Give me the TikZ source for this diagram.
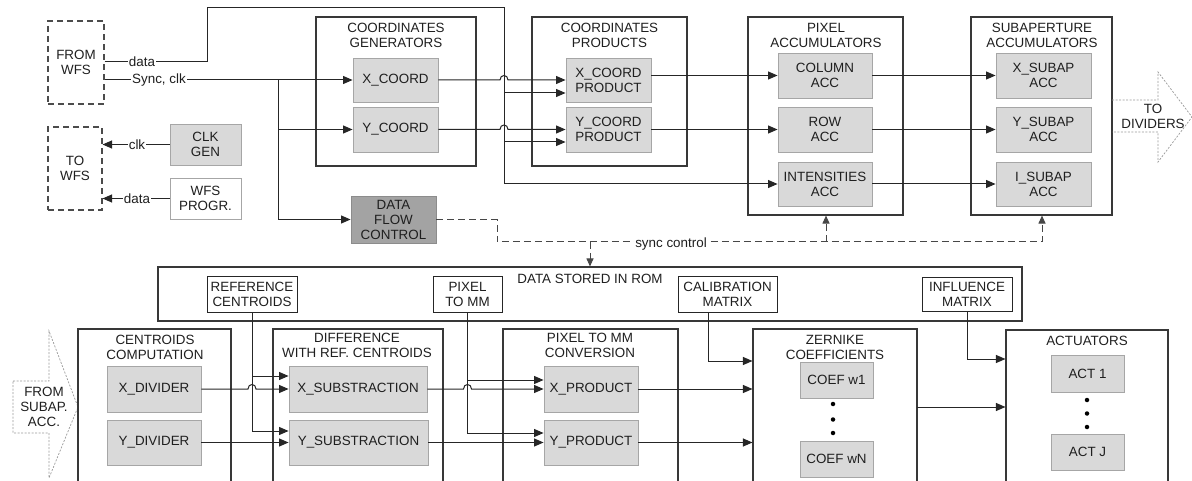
\documentclass[tikz,border=0pt]{standalone}
\usepackage{fontspec}
\setmainfont{Liberation Sans}
\usetikzlibrary{arrows.meta,calc}

\begin{document}
\begin{tikzpicture}[x=1pt,y=-1pt,
  font=\fontsize{13.4}{15}\selectfont,
  every node/.style={inner sep=0pt, align=center, text=black!88},
  grp/.style={draw=black!78, line width=1.1pt},
  unit/.style={draw=black!35, line width=0.9pt, fill=black!15},
  ctlunit/.style={draw=black!45, line width=0.9pt, fill=black!36},
  plain/.style={draw=black!35, line width=0.9pt, fill=white},
  romitem/.style={draw=black!85, line width=1pt, fill=white},
  iface/.style={draw=black!70, line width=1.1pt, dash pattern=on 6pt off 4pt},
  flow/.style={draw=black!40, line width=0.7pt, dash pattern=on 2pt off 1.5pt},
  wire/.style={draw=black!85, line width=1pt},
  arr/.style={wire, -{Triangle[length=9.5pt,width=8pt]}},
  ctl/.style={draw=black!72, line width=1pt, dash pattern=on 7pt off 4pt},
  ctlarr/.style={ctl, -{Triangle[length=8pt,width=7pt]}},
  tag/.style={fill=white, inner xsep=1pt, inner ysep=1pt},
  dotmark/.style={circle, fill=black, minimum size=4.5pt, inner sep=0pt},
]
\useasboundingbox (0,0) rectangle (1192,481);
\clip (0,0) rectangle (1192,481);

% ---------------- upper chain ----------------
\node[iface, minimum width=56pt, minimum height=83pt] (fromwfs) at (76,62.5) {FROM\\WFS};
\node[iface, minimum width=54pt, minimum height=83pt] (towfs) at (75,168.5) {TO\\WFS};
\node[unit, minimum width=71pt, minimum height=41pt] (clkgen) at (205.5,144.5) {CLK\\GEN};
\node[plain, minimum width=71pt, minimum height=41pt] (wfsprog) at (205.5,198.5) {WFS\\PROGR.};
\node[ctlunit, minimum width=85pt, minimum height=47pt] (dfc) at (393.5,219.5) {DATA\\FLOW\\CONTROL};

\node[grp, minimum width=160pt, minimum height=149pt] (cgbox) at (396,91.5) {};
\node (cgtitle) at (396,35.5) {COORDINATES\\GENERATORS};
\node[unit, minimum width=85pt, minimum height=44pt] (xcoord) at (395.5,80) {X\_COORD};
\node[unit, minimum width=85pt, minimum height=45pt] (ycoord) at (395.5,129.5) {Y\_COORD};

\node[grp, minimum width=155pt, minimum height=149pt] (cpbox) at (609.5,91.5) {};
\node (cptitle) at (609.5,35.5) {COORDINATES\\PRODUCTS};
\node[unit, minimum width=85pt, minimum height=44pt] (xprod) at (608.5,80) {X\_COORD\\PRODUCT};
\node[unit, minimum width=85pt, minimum height=45pt] (yprod) at (608.5,129.5) {Y\_COORD\\PRODUCT};

\node[grp, minimum width=155pt, minimum height=198pt] (pabox) at (825.5,116) {};
\node (patitle) at (826,35.5) {PIXEL\\ACCUMULATORS};
\node[unit, minimum width=94pt, minimum height=45pt] (colacc) at (825,75.5) {COLUMN\\ACC};
\node[unit, minimum width=94pt, minimum height=45pt] (rowacc) at (825,129.5) {ROW\\ACC};
\node[unit, minimum width=94pt, minimum height=44pt] (intacc) at (825,184) {INTENSITIES\\ACC};

\node[grp, minimum width=141pt, minimum height=198pt] (sabox) at (1041.5,116) {};
\node (satitle) at (1042,35.5) {SUBAPERTURE\\ACCUMULATORS};
\node[unit, minimum width=95pt, minimum height=45pt] (xsub) at (1043.5,75.5) {X\_SUBAP\\ACC};
\node[unit, minimum width=95pt, minimum height=45pt] (ysub) at (1043.5,129.5) {Y\_SUBAP\\ACC};
\node[unit, minimum width=95pt, minimum height=44pt] (isub) at (1043.5,184) {I\_SUBAP\\ACC};

% outgoing block arrow
\draw[flow] (1112,100) -- (1158,100) -- (1158,72) -- (1192,117) -- (1158,162) -- (1158,132) -- (1112,132);
\node (todiv) at (1153,116) {TO\\DIVIDERS};

% data path from the sensor
\coordinate (d0) at (207,62);
\coordinate (d1) at (207,8);
\coordinate (d2) at (504,8);
\coordinate (dxp) at (504,93);
\coordinate (dyp) at (504,142);
\draw[arr] (fromwfs.east |- d0) -- (d0) -- (d1) -- (d2) -- (d2 |- intacc.west) -- (intacc.west);
\draw[arr] (dxp) -- (dxp -| xprod.west);
\draw[arr] (dyp) -- (dyp -| xprod.west);
\node[tag] (datalbl) at (142,62) {data};

% sync / clock path
\coordinate (s0) at (278,80);
\draw[arr] (fromwfs.east |- s0) -- (xcoord.west);
\draw[arr] (s0) -- (s0 |- dfc.west) -- (dfc.west);
\draw[arr] (s0 |- ycoord.west) -- (ycoord.west);
\node[tag] (synclbl) at (159,80) {Sync, clk};

% generator outputs hopping over the data trunk
\draw[arr] (xcoord.east) -- (500,80) .. controls (500,74) and (508,74) .. (508,80) -- (xprod.west);
\draw[arr] (ycoord.east) -- (500,129.5) .. controls (500,123.5) and (508,123.5) .. (508,129.5) -- (yprod.west);

% products to accumulators
\draw[arr] (xprod.east |- colacc.west) -- (colacc.west);
\draw[arr] (yprod.east |- rowacc.west) -- (rowacc.west);
\draw[arr] (colacc.east) -- (xsub.west);
\draw[arr] (rowacc.east) -- (ysub.west);
\draw[arr] (intacc.east) -- (isub.west);

% signals back to the sensor
\draw[arr] (clkgen.west) -- (clkgen.west -| towfs.east);
\node[tag] (clklbl) at (137,144.5) {clk};
\draw[arr] (wfsprog.west) -- (wfsprog.west -| towfs.east);
\node[tag] (progdatalbl) at (137,198.5) {data};

% ---------------- ROM ----------------
\node[grp, minimum width=864pt, minimum height=54pt] (rom) at (590,294) {};
\node (romtitle) at (590,279) {DATA STORED IN ROM};
\node[romitem, minimum width=90pt, minimum height=35pt] (refc) at (252,294.5) {REFERENCE\\CENTROIDS};
\node[romitem, minimum width=69pt, minimum height=35pt] (pxmm) at (467.5,294.5) {PIXEL\\TO MM};
\node[romitem, minimum width=99pt, minimum height=35pt] (calm) at (727.5,294.5) {CALIBRATION\\MATRIX};
\node[romitem, minimum width=90pt, minimum height=33pt] (infm) at (967,294.5) {INFLUENCE\\MATRIX};

% sync control (dashed)
\coordinate (c0) at (497,219.5);
\coordinate (c1) at (497,242);
\coordinate (c2) at (1042,242);
\coordinate (cp) at (826,242);
\coordinate (cr) at (590,242);
\draw[ctlarr] (dfc.east) -- (c0) -- (c1) -- (c2) -- (c2 |- sabox.south);
\draw[ctlarr] (cp) -- (cp |- pabox.south);
\draw[ctlarr] (cr) -- (cr |- rom.north);
\node[tag] (ctllbl) at (671,244) {sync control};

% ---------------- lower chain ----------------
\draw[flow] (13,381) -- (49,381) -- (49,331) -- (78,407) -- (49,478) -- (49,433) -- (13,433) -- cycle;
\node (fromsub) at (44,407) {FROM\\SUBAP.\\ACC.};

\node[grp, minimum width=153pt, minimum height=180pt] (ccbox) at (154.5,419) {};
\node (cctitle) at (155,347.5) {CENTROIDS\\COMPUTATION};
\node[unit, minimum width=94pt, minimum height=46pt] (xdiv) at (154,389) {X\_DIVIDER};
\node[unit, minimum width=94pt, minimum height=45pt] (ydiv) at (154,442.5) {Y\_DIVIDER};

\node[grp, minimum width=170pt, minimum height=180pt] (dfbox) at (358,419) {};
\node (dftitle) at (357,345.5) {DIFFERENCE\\WITH REF. CENTROIDS};
\node[unit, minimum width=138pt, minimum height=46pt] (xsubt) at (358,389) {X\_SUBSTRACTION};
\node[unit, minimum width=139pt, minimum height=45pt] (ysubt) at (358.5,442.5) {Y\_SUBSTRACTION};

\node[grp, minimum width=175pt, minimum height=180pt] (pmbox) at (590.5,419) {};
\node (pmtitle) at (590,345.5) {PIXEL TO MM\\CONVERSION};
\node[unit, minimum width=94pt, minimum height=46pt] (xpr) at (591,389) {X\_PRODUCT};
\node[unit, minimum width=94pt, minimum height=45pt] (ypr) at (591,442.5) {Y\_PRODUCT};

\node[grp, minimum width=164pt, minimum height=180pt] (zbox) at (835,419) {};
\node (ztitle) at (835,347.5) {ZERNIKE\\COEFFICIENTS};
\node[unit, minimum width=73pt, minimum height=36pt] (cw1) at (836.5,380) {COEF w1};
\node[unit, minimum width=73pt, minimum height=36pt] (cwn) at (836.5,459) {COEF wN};
\node[dotmark] (zd1) at (833,404) {};
\node[dotmark] (zd2) at (833,419.5) {};
\node[dotmark] (zd3) at (833,433) {};

\node[grp, minimum width=162pt, minimum height=180pt] (acbox) at (1087,420) {};
\node (actitle) at (1087,341) {ACTUATORS};
\node[unit, minimum width=73pt, minimum height=37pt] (act1) at (1087.5,373.5) {ACT 1};
\node[unit, minimum width=73pt, minimum height=36pt] (actj) at (1087.5,452) {ACT J};
\node[dotmark] (ad1) at (1087,400) {};
\node[dotmark] (ad2) at (1087,413.5) {};
\node[dotmark] (ad3) at (1087,427) {};

% reference centroids feed
\coordinate (r1) at (252,376);
\coordinate (r2) at (252,431);
\draw[arr] (refc.south) -- (r2) -- (r2 -| xsubt.west);
\draw[arr] (r1) -- (r1 -| xsubt.west);
\draw[arr] (xdiv.east) -- (248,389) .. controls (248,383) and (256,383) .. (256,389) -- (xsubt.west);
\draw[arr] (ydiv.east) -- (ysubt.west |- ydiv.east);

% pixel-to-mm feed
\coordinate (p1) at (467.5,380);
\coordinate (p2) at (467.5,433);
\draw[arr] (pxmm.south) -- (p2) -- (p2 -| xpr.west);
\draw[arr] (p1) -- (p1 -| xpr.west);
\draw[arr] (xsubt.east) -- (463.5,389) .. controls (463.5,383) and (471.5,383) .. (471.5,389) -- (xpr.west);
\draw[arr] (ysubt.east) -- (ypr.west);

% products to Zernike
\draw[arr] (xpr.east) -- (xpr.east -| zbox.west);
\draw[arr] (ypr.east) -- (ypr.east -| zbox.west);
\coordinate (k0) at (708,312);
\coordinate (k1) at (708,361);
\draw[arr] (k0) -- (k1) -- (k1 -| zbox.west);

% Zernike to actuators
\coordinate (m1) at (967,359);
\draw[arr] (infm.south) -- (m1) -- (m1 -| acbox.west);
\coordinate (z1) at (917,407);
\draw[arr] (z1) -- (z1 -| acbox.west);
\end{tikzpicture}
\end{document}
